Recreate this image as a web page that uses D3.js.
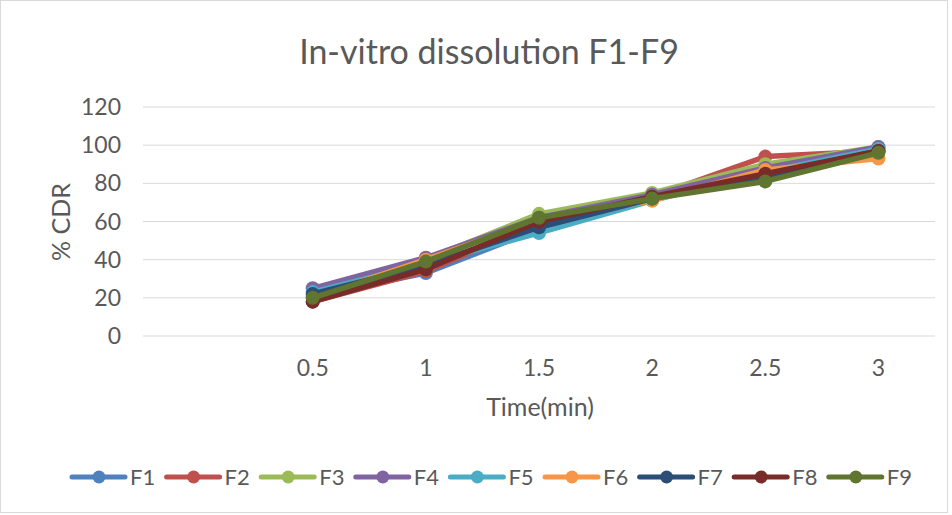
<!DOCTYPE html>
<html>
<head>
<meta charset="utf-8">
<script src="https://cdn.jsdelivr.net/npm/d3@7"></script>
<style>
  body { margin: 0; background: #fff; }
  text { font-family: Lato, "Open Sans", "Liberation Sans", sans-serif; }
</style>
</head>
<body>
<svg width="952" height="515"></svg>
<script>
// categories (first slot is empty, as in the original sheet)
var times = ["", "0.5", "1", "1.5", "2", "2.5", "3"];
var seriesNames = ["F1", "F2", "F3", "F4", "F5", "F6", "F7", "F8", "F9"];
var F1 = [21, 33, 56, 72, 83, 98];
var F2 = [18, 34, 59, 73, 94, 97];
var F3 = [20, 40, 64, 75, 90, 99];
var F4 = [25, 41, 62, 74, 88, 99];
var F5 = [23, 38, 54, 71, 86, 98];
var F6 = [20, 40, 61, 71, 87, 93];
var F7 = [22, 37, 57, 72, 84, 97];
var F8 = [18, 35, 60, 73, 85, 97];
var F9 = [20, 39, 62, 72, 81, 96];
var yTicks = [0, 20, 40, 60, 80, 100, 120];

var colors = ["#4F81BD", "#C0504D", "#9BBB59", "#8064A2", "#4BACC6",
              "#F79646", "#2C4D75", "#772C2A", "#5F7530"];
var allValues = [F1, F2, F3, F4, F5, F6, F7, F8, F9];

var svg = d3.select("svg");

svg.append("rect")
    .attr("x", 0.5).attr("y", 0.5)
    .attr("width", 947).attr("height", 512)
    .attr("fill", "#fff")
    .attr("stroke", "#D9D9D9");

var plotLeft = 143, plotRight = 935, plotTop = 107, plotBottom = 336;

var x = d3.scaleBand()
    .domain(times)
    .range([plotLeft, plotRight])
    .padding(0);

var y = d3.scaleLinear()
    .domain([0, 120])
    .range([plotBottom, plotTop]);

// gridlines
svg.append("g")
    .selectAll("line")
    .data(yTicks)
    .enter().append("line")
    .attr("x1", plotLeft).attr("x2", plotRight)
    .attr("y1", d => y(d)).attr("y2", d => y(d))
    .attr("stroke", "#D9D9D9")
    .attr("stroke-width", 1);

// y tick labels
svg.append("g")
    .selectAll("text")
    .data(yTicks)
    .enter().append("text")
    .attr("x", 121)
    .attr("y", d => y(d))
    .attr("dy", "0.35em")
    .attr("text-anchor", "end")
    .attr("font-size", 23)
    .attr("fill", "#595959")
    .text(d => d);

// x tick labels
svg.append("g")
    .selectAll("text")
    .data(times)
    .enter().append("text")
    .attr("x", d => x(d) + x.bandwidth() / 2)
    .attr("y", 376)
    .attr("text-anchor", "middle")
    .attr("font-size", 23)
    .attr("fill", "#595959")
    .text(d => d);

// titles
svg.append("text")
    .attr("x", 489).attr("y", 64)
    .attr("text-anchor", "middle")
    .attr("font-size", 34)
    .attr("fill", "#595959")
    .text("In-vitro dissolution F1-F9");

svg.append("text")
    .attr("x", 540).attr("y", 416)
    .attr("text-anchor", "middle")
    .attr("font-size", 25)
    .attr("fill", "#595959")
    .text("Time(min)");

svg.append("text")
    .attr("transform", "translate(70,222) rotate(-90)")
    .attr("text-anchor", "middle")
    .attr("font-size", 25)
    .attr("fill", "#595959")
    .text("% CDR");

// series
var line = d3.line()
    .x((d, i) => x(times[i + 1]) + x.bandwidth() / 2)
    .y(d => y(d));

var series = svg.append("g")
    .selectAll("g")
    .data(allValues)
    .enter().append("g");

series.append("path")
    .attr("d", d => line(d))
    .attr("fill", "none")
    .attr("stroke", (d, i) => colors[i])
    .attr("stroke-width", 5.5)
    .attr("stroke-linejoin", "round")
    .attr("stroke-linecap", "round");

series.each(function (vals, si) {
    d3.select(this).selectAll("circle")
        .data(vals)
        .enter().append("circle")
        .attr("cx", (d, i) => x(times[i + 1]) + x.bandwidth() / 2)
        .attr("cy", d => y(d))
        .attr("r", 7)
        .attr("fill", colors[si]);
});

// legend
var legend = svg.append("g")
    .selectAll("g")
    .data(seriesNames)
    .enter().append("g")
    .attr("transform", (d, i) => "translate(" + (72 + i * 94.6) + ",477)");

legend.append("line")
    .attr("x1", 0).attr("x2", 53)
    .attr("stroke", (d, i) => colors[i])
    .attr("stroke-width", 5)
    .attr("stroke-linecap", "round");

legend.append("circle")
    .attr("cx", 27).attr("r", 6.5)
    .attr("fill", (d, i) => colors[i]);

legend.append("text")
    .attr("x", 58)
    .attr("dy", "0.35em")
    .attr("font-size", 22)
    .attr("fill", "#595959")
    .text(d => d);
</script>
</body>
</html>
